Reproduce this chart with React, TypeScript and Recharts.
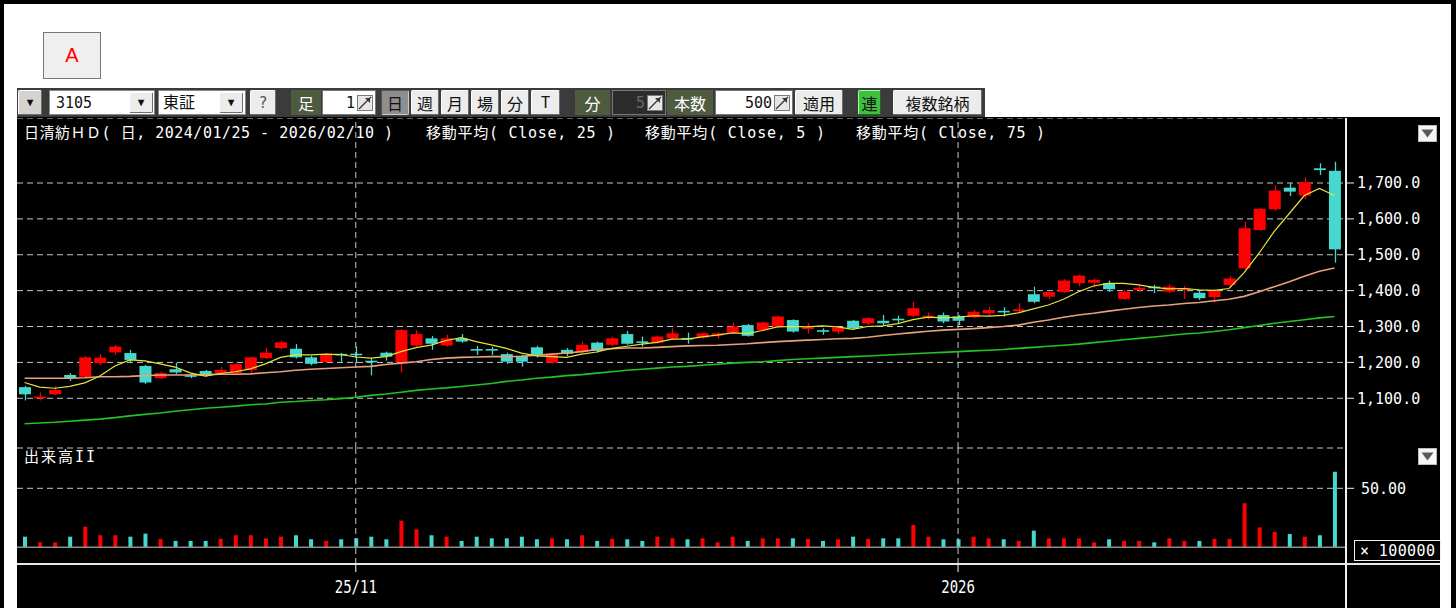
import React from 'react';
import { ComposedChart, Bar, Line, XAxis, YAxis, CartesianGrid, ReferenceLine, Cell } from 'recharts';

const dates = [
  '2025/10/01','2025/10/02','2025/10/03','2025/10/06','2025/10/07','2025/10/08','2025/10/09','2025/10/10','2025/10/14','2025/10/15','2025/10/16','2025/10/17','2025/10/20','2025/10/21','2025/10/22','2025/10/23','2025/10/24','2025/10/27','2025/10/28','2025/10/29','2025/10/30','2025/10/31',
  '2025/11/04','2025/11/05','2025/11/06','2025/11/07','2025/11/10','2025/11/11','2025/11/12','2025/11/13','2025/11/14','2025/11/17','2025/11/18','2025/11/19','2025/11/20','2025/11/21','2025/11/25','2025/11/26','2025/11/27','2025/11/28',
  '2025/12/01','2025/12/02','2025/12/03','2025/12/04','2025/12/05','2025/12/08','2025/12/09','2025/12/10','2025/12/11','2025/12/12','2025/12/15','2025/12/16','2025/12/17','2025/12/18','2025/12/19','2025/12/22','2025/12/23','2025/12/24','2025/12/25','2025/12/26','2025/12/29','2025/12/30',
  '2026/01/05','2026/01/06','2026/01/07','2026/01/08','2026/01/09','2026/01/13','2026/01/14','2026/01/15','2026/01/16','2026/01/19','2026/01/20','2026/01/21','2026/01/22','2026/01/23','2026/01/26','2026/01/27','2026/01/28','2026/01/29','2026/01/30',
  '2026/02/02','2026/02/03','2026/02/04','2026/02/05','2026/02/06','2026/02/09','2026/02/10'
];

const opens = [1131,1100,1111,1165,1160,1198,1228,1226,1190,1156, 1181,1164,1176,1170,1170,1179,1212,1240,1238,1214, 1201,1223,1223,1204,1227,1201,1247,1267,1247,1267, 1237,1237,1223,1218,1242,1199,1235,1230,1255,1249, 1279,1258,1255,1267,1267,1269,1275,1283,1304,1290, 1300,1318,1293,1289,1286,1316,1309,1316,1321,1330, 1326,1332,1328,1326,1337,1343,1343,1390,1383,1396, 1421,1422,1421,1377,1402,1411,1397,1402,1394,1382, 1416,1462,1569,1627,1687,1665,1741,1734];
const highs = [1134,1116,1133,1170,1218,1223,1249,1235,1193,1174, 1199,1170,1179,1187,1198,1216,1240,1261,1251,1218, 1226,1226,1244,1212,1230,1293,1290,1274,1277,1279, 1246,1244,1227,1221,1246,1224,1240,1258,1258,1272, 1288,1272,1275,1295,1283,1283,1284,1311,1307,1314, 1330,1320,1309,1295,1300,1318,1326,1332,1330,1369, 1339,1339,1332,1346,1355,1354,1365,1411,1397,1432, 1444,1434,1428,1402,1416,1416,1418,1413,1402,1404, 1441,1592,1631,1694,1701,1716,1755,1759];
const lows = [1094,1094,1109,1148,1158,1193,1221,1198,1140,1153, 1168,1156,1160,1167,1165,1172,1209,1237,1211,1192, 1198,1202,1198,1164,1205,1172,1244,1235,1244,1255, 1221,1221,1196,1188,1214,1197,1218,1226,1227,1246, 1249,1244,1252,1263,1252,1266,1267,1281,1272,1287, 1298,1283,1281,1277,1279,1292,1304,1304,1309,1326, 1320,1309,1304,1323,1330,1328,1339,1365,1376,1393, 1412,1409,1397,1374,1397,1393,1393,1377,1374,1367, 1409,1458,1566,1623,1664,1655,1722,1478];
const closes = [1111,1104,1123,1156,1214,1213,1244,1207,1144,1170, 1172,1160,1164,1179,1195,1214,1227,1256,1214,1196, 1223,1220,1221,1201,1216,1290,1279,1252,1267,1258, 1233,1233,1202,1202,1221,1221,1224,1249,1232,1267, 1252,1255,1272,1281,1265,1281,1281,1300,1274,1311, 1328,1286,1298,1286,1297,1295,1323,1309,1318,1351, 1330,1314,1316,1341,1346,1340,1348,1369,1396,1428, 1442,1430,1404,1397,1408,1407,1411,1407,1379,1399, 1434,1574,1628,1679,1676,1702,1736,1515];

// volume in units of 100000 shares
const volumes = [9.0,4.2,4.2,9.0,17.5,10.2,10.2,9.0,11.6,7.1, 5.4,5.4,5.4,7.1,10.2,10.2,7.6,9.0,10.2,6.8, 5.4,6.8,7.6,9.0,6.8,22.6,15.3,10.2,9.0,5.4, 9.0,7.6,7.6,9.0,6.8,7.6,6.8,10.2,5.4,7.1, 6.8,5.4,9.0,7.6,6.8,7.6,4.2,9.0,5.4,7.6, 7.6,7.6,7.1,5.4,6.8,9.0,7.1,7.6,7.6,18.9, 9.0,6.8,6.8,9.0,7.6,6.8,5.4,14.1,7.6,7.6, 7.6,4.2,6.8,5.4,5.4,4.2,7.6,5.4,5.4,7.1, 7.1,37.3,16.9,13.0,11.3,9.0,10.2,64.1];

const ma5 = [1144,1131,1128,1133,1143,1162,1190,1207,1204,1196, 1187,1171,1162,1169,1174,1182,1196,1214,1221,1221, 1223,1222,1215,1212,1216,1230,1241,1248,1261,1269, 1258,1249,1239,1226,1218,1216,1214,1223,1229,1239, 1245,1251,1256,1265,1265,1271,1276,1282,1280,1289, 1299,1300,1299,1302,1299,1292,1300,1302,1308,1319, 1326,1324,1326,1330,1329,1331,1338,1349,1360,1376, 1397,1413,1420,1420,1416,1409,1405,1406,1402,1401, 1406,1450,1505,1565,1615,1665,1685,1665];
const ma25 = [1156,1156,1156,1156,1157,1160,1160,1161,1163,1165, 1165,1165,1166,1167,1167,1168,1171,1174,1178,1181, 1183,1185,1187,1189,1194,1198,1202,1208,1212,1214, 1215,1216,1216,1217,1220,1223,1226,1230,1236,1238, 1240,1240,1242,1244,1246,1247,1248,1250,1252,1255, 1258,1260,1262,1264,1266,1267,1270,1275,1279,1283, 1287,1290,1292,1294,1297,1300,1304,1312,1318,1326, 1332,1337,1343,1348,1353,1357,1360,1364,1367,1372, 1376,1384,1397,1411,1425,1440,1454,1463];
const ma75 = [1029,1031,1033,1036,1039,1042,1046,1051,1055,1059, 1064,1068,1072,1075,1078,1082,1084,1089,1091,1094, 1096,1099,1103,1108,1112,1117,1122,1126,1129,1133, 1137,1141,1147,1151,1156,1159,1163,1166,1170,1174, 1178,1181,1184,1187,1189,1192,1195,1198,1200,1202, 1205,1208,1210,1212,1214,1216,1218,1220,1222,1224, 1226,1228,1230,1232,1234,1236,1239,1242,1245,1248, 1251,1255,1259,1263,1267,1271,1275,1279,1282,1286, 1291,1297,1303,1309,1314,1319,1324,1328];

const priceTicks = [1100, 1200, 1300, 1400, 1500, 1600, 1700];
const volumeTicks = [50];
const tickDates = ['2025/11/04', '2026/01/05'];
const tickLabels = ['25/11', '2026'];

const data = dates.map((d, i) => ({
  date: d,
  open: opens[i],
  high: highs[i],
  low: lows[i],
  close: closes[i],
  range: [lows[i], highs[i]],
  vol: volumes[i],
  ma5: ma5[i],
  ma25: ma25[i],
  ma75: ma75[i],
}));

const UP = '#ff0000';
const DOWN = '#44d8cf';
const GRID = '#c8c8c8';
const MONO = "'DejaVu Sans Mono', 'Noto Sans CJK JP', monospace";
const CJK = "'DejaVu Sans Mono', 'Noto Sans CJK JP', sans-serif";

const Candle = (props: any) => {
  const { x, y, width, height, payload } = props;
  if (!payload || height == null) return null;
  const top = Math.min(y, y + height);
  const h = Math.abs(height);
  const { open, close, high, low } = payload;
  const r = high > low ? h / (high - low) : 0;
  const yO = top + (high - open) * r;
  const yC = top + (high - close) * r;
  let bt = Math.min(yO, yC);
  let bh = Math.abs(yO - yC);
  if (bh < 1.6) {
    bt -= (1.6 - bh) / 2;
    bh = 1.6;
  }
  const color = close >= open ? UP : DOWN;
  const cx = Math.round(x + width / 2) + 0.5;
  return (
    <g>
      <line x1={cx} x2={cx} y1={top} y2={top + h} stroke={color} strokeWidth={1.3} />
      <rect x={x} y={bt} width={width} height={bh} fill={color} />
    </g>
  );
};

const DateTick = (props: any) => {
  const { x, y, payload } = props;
  const i = tickDates.indexOf(payload.value);
  return (
    <text
      transform={`translate(${x},${y + 19}) scale(1,1.3)`}
      textAnchor="middle"
      fill="#ffffff"
      fontSize={14}
      fontFamily={MONO}
    >
      {i >= 0 ? tickLabels[i] : ''}
    </text>
  );
};

const fmtPrice = (v: number) =>
  v.toLocaleString('en-US', { minimumFractionDigits: 1, maximumFractionDigits: 1 });

const abs = (s: any): any => ({ position: 'absolute', boxSizing: 'border-box', ...s });

const Spinner = () => (
  <svg width={16} height={16} style={{ display: 'block' }}>
    <rect x={0.5} y={0.5} width={15} height={15} fill="#e6e6e6" stroke="#7a7a7a" />
    <line x1={2} y1={14} x2={14} y2={2} stroke="#333" strokeWidth={1.2} />
    <path d="M8 3 L13 3 L13 8 Z" fill="#333" />
  </svg>
);

const bevel = {
  background: '#ececec',
  border: '1px solid',
  borderColor: '#ffffff #6e6e6e #6e6e6e #ffffff',
  borderRadius: 2,
  display: 'flex',
  alignItems: 'center',
  justifyContent: 'center',
  color: '#111',
  fontSize: 16,
  fontFamily: CJK,
};

const Toolbar = () => {
  const T = 90;
  const H = 25;
  const btn = (left: number, width: number, label: string, extra: any = {}) => (
    <div style={abs({ left, top: T, width, height: H, ...bevel, ...extra })}>{label}</div>
  );
  const olive = (left: number, width: number, label: string) => (
    <div
      style={abs({
        left, top: T, width, height: H, background: '#4e5b3f', color: '#fff',
        display: 'flex', alignItems: 'center', justifyContent: 'center', fontSize: 16, fontFamily: CJK,
      })}
    >
      {label}
    </div>
  );
  const arrowBtn = (left: number) => (
    <div style={abs({ left, top: T + 2, width: 24, height: H - 4, ...bevel, fontSize: 11 })}>▼</div>
  );
  const input = (left: number, width: number, value: string, bg: string, color: string) => (
    <div style={abs({ left, top: T, width, height: H, background: bg, border: '1px solid #777' })}>
      <div style={abs({ right: 20, top: 2, color, fontSize: 15, fontFamily: MONO, lineHeight: '20px' })}>{value}</div>
      <div style={abs({ right: 2, top: 4 })}><Spinner /></div>
    </div>
  );
  return (
    <>
      <div style={abs({ left: 17, top: 88, width: 968, height: 29, background: '#3b3b3b' })} />
      {btn(18, 24, '▼', { fontSize: 11, background: '#d6d3ce' })}
      <div style={abs({ left: 49, top: T, width: 106, height: H, background: '#fff', border: '1px solid #888' })}>
        <div style={abs({ left: 6, top: 1, fontSize: 15, fontFamily: MONO, lineHeight: '22px', color: '#111' })}>3105</div>
      </div>
      {arrowBtn(129)}
      <div style={abs({ left: 158, top: T, width: 88, height: H, background: '#fff', border: '1px solid #888' })}>
        <div style={abs({ left: 4, top: 0, fontSize: 16, fontFamily: CJK, lineHeight: '23px', color: '#111' })}>東証</div>
      </div>
      {arrowBtn(219)}
      {btn(250, 26, '?', { color: '#555', fontFamily: MONO, fontSize: 15 })}
      {olive(291, 30, '足')}
      {input(322, 54, '1', '#fff', '#111')}
      {btn(381, 28, '日', { background: '#8e8e8e', borderColor: '#555 #ccc #ccc #555' })}
      {btn(411, 28, '週')}
      {btn(441, 28, '月')}
      {btn(471, 28, '場')}
      {btn(501, 28, '分')}
      {btn(531, 29, 'T', { fontFamily: MONO, fontSize: 15 })}
      {olive(575, 35, '分')}
      {input(612, 54, '5', '#2c2c2c', '#6a6a6a')}
      {olive(667, 46, '本数')}
      {input(715, 78, '500', '#fff', '#111')}
      {btn(795, 48, '適用')}
      {btn(858, 23, '連', { background: '#3fbf3f', borderColor: '#9f9 #1a6a1a #1a6a1a #9f9' })}
      {btn(893, 89, '複数銘柄')}
    </>
  );
};

const DownArrowBox = ({ left, top }: { left: number; top: number }) => (
  <div style={abs({ left, top, width: 19, height: 17, background: '#f6f6f6', border: '1px solid #bbb' })}>
    <svg width={17} height={15} style={{ display: 'block' }}>
      <path d="M2.5 3.5 L14.5 3.5 L8.5 11.5 Z" fill="#5a5a5a" />
    </svg>
  </div>
);

export default function App() {
  return (
    <div
      style={{
        position: 'absolute', left: 0, top: 0, width: 1456, height: 608, background: '#fff',
        overflow: 'hidden', fontFamily: CJK,
      }}
    >
      {/* frame */}
      <div style={abs({ left: 0, top: 0, width: 1456, height: 4, background: '#000' })} />
      <div style={abs({ left: 0, top: 0, width: 4, height: 608, background: '#000' })} />
      <div style={abs({ left: 1451, top: 0, width: 5, height: 608, background: '#000' })} />

      {/* A box */}
      <div
        style={abs({
          left: 43, top: 32, width: 58, height: 47, background: '#efefef', border: '1px solid #777',
          display: 'flex', alignItems: 'center', justifyContent: 'center', color: '#ff0000',
          fontSize: 20, fontFamily: "'Liberation Sans', Arial, sans-serif",
        })}
      >
        A
      </div>

      <Toolbar />

      {/* chart background */}
      <div style={abs({ left: 17, top: 117, width: 1423, height: 491, background: '#000' })} />

      {/* price chart */}
      <div style={abs({ left: 17, top: 118, width: 1423, height: 330 })}>
        <ComposedChart width={1423} height={330} data={data} margin={{ top: 0, right: 0, bottom: 0, left: 0 }}>
          <CartesianGrid vertical={false} stroke={GRID} strokeDasharray="6 4" />
          <XAxis dataKey="date" hide padding={{ left: 0, right: 4 }} />
          <YAxis
            orientation="right"
            width={94}
            type="number"
            domain={[961.4, 1881.2]}
            allowDataOverflow
            ticks={priceTicks}
            tickFormatter={fmtPrice}
            axisLine={{ stroke: '#f0f0f0', strokeWidth: 2 }}
            tickLine={{ stroke: '#f0f0f0' }}
            tickSize={8}
            tickMargin={3}
            tick={{ fill: '#ffffff', fontSize: 15, fontFamily: MONO }}
          />
          {tickDates.map((d) => (
            <ReferenceLine key={d} x={d} stroke={GRID} strokeDasharray="6 4" />
          ))}
          <Line dataKey="ma75" stroke="#22c322" strokeWidth={1.6} dot={false} isAnimationActive={false} />
          <Line dataKey="ma25" stroke="#e6a27e" strokeWidth={1.6} dot={false} isAnimationActive={false} />
          <Line dataKey="ma5" stroke="#e4e43a" strokeWidth={1.2} dot={false} isAnimationActive={false} />
          <Bar dataKey="range" barSize={12} isAnimationActive={false} shape={(p: any) => <Candle {...p} />} />
        </ComposedChart>
      </div>

      {/* volume chart */}
      <div style={abs({ left: 17, top: 448, width: 1423, height: 160 })}>
        <ComposedChart width={1423} height={160} data={data} margin={{ top: 0, right: 0, bottom: 0, left: 0 }}>
          <CartesianGrid vertical={false} stroke={GRID} strokeDasharray="6 4" />
          <XAxis
            dataKey="date"
            ticks={tickDates}
            interval={0}
            height={44}
            padding={{ left: 0, right: 4 }}
            axisLine={{ stroke: '#e6e6e6', strokeWidth: 2 }}
            tickLine={{ stroke: '#ffffff' }}
            tickSize={8}
            tick={<DateTick />}
          />
          <YAxis
            orientation="right"
            width={94}
            type="number"
            domain={[-14.15, 84.15]}
            allowDataOverflow
            ticks={volumeTicks}
            tickFormatter={(v: number) => v.toFixed(2)}
            axisLine={{ stroke: '#f0f0f0', strokeWidth: 2 }}
            tickLine={{ stroke: '#f0f0f0' }}
            tickSize={8}
            tickMargin={7}
            tick={{ fill: '#ffffff', fontSize: 15, fontFamily: MONO }}
          />
          {tickDates.map((d) => (
            <ReferenceLine key={d} x={d} stroke={GRID} strokeDasharray="6 4" />
          ))}
          <ReferenceLine y={0} stroke="#8c8c8c" strokeWidth={1.5} />
          <Bar dataKey="vol" barSize={4} isAnimationActive={false}>
            {data.map((d, i) => (
              <Cell key={i} fill={d.close >= d.open ? UP : DOWN} />
            ))}
          </Bar>
        </ComposedChart>
      </div>

      {/* axis extensions */}
      <div style={abs({ left: 1345, top: 560, width: 2, height: 48, background: '#f0f0f0' })} />
      <div style={abs({ left: 1346, top: 563, width: 94, height: 2, background: '#e6e6e6' })} />

      {/* labels overlay */}
      <svg width={1456} height={608} style={{ position: 'absolute', left: 0, top: 0, pointerEvents: 'none' }}>
        <g fill="#ffffff" fontSize={15} fontFamily={CJK} style={{ whiteSpace: 'pre' }}>
          <text x={24} y={138} textLength={369} lengthAdjust="spacing">日清紡ＨＤ( 日, 2024/01/25 - 2026/02/10 )</text>
          <text x={426} y={138} textLength={189} lengthAdjust="spacing">移動平均( Close, 25 )</text>
          <text x={645} y={138} textLength={180} lengthAdjust="spacing">移動平均( Close, 5 )</text>
          <text x={856} y={138} textLength={189} lengthAdjust="spacing">移動平均( Close, 75 )</text>
          <text x={24} y={462} textLength={71} lengthAdjust="spacing">出来高II</text>
        </g>
        <rect x={1354.5} y={540.5} width={86} height={20} fill="#000" stroke="#f0f0f0" strokeWidth={1} />
        <text x={1360} y={556} fill="#ffffff" fontSize={15} fontFamily={MONO} textLength={75} lengthAdjust="spacing">× 100000</text>
      </svg>

      <DownArrowBox left={1418} top={125} />
      <DownArrowBox left={1418} top={448} />
    </div>
  );
}
